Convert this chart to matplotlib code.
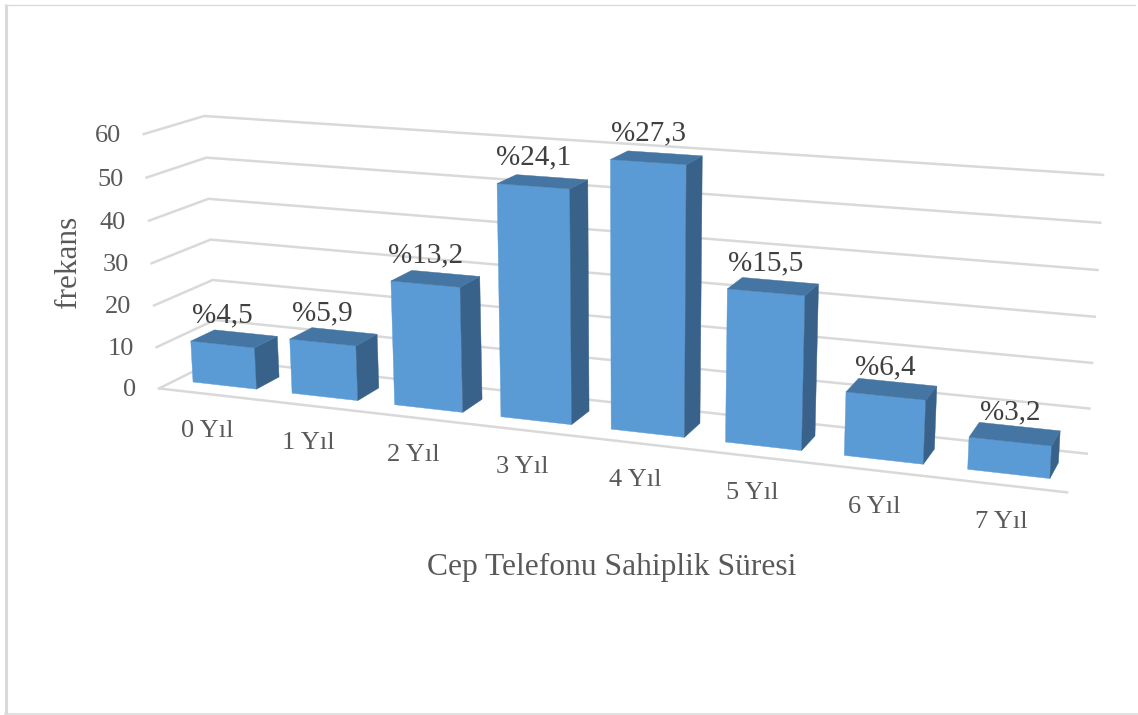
"""Cep telefonu sahiplik suresi: frequency bars drawn in a projected 3D box."""
import numpy as np
import matplotlib
matplotlib.use("Agg")
import matplotlib.pyplot as plt

categories = ["0 Yıl", "1 Yıl", "2 Yıl", "3 Yıl", "4 Yıl", "5 Yıl", "6 Yıl", "7 Yıl"]
frequency = [10, 13, 29, 53, 60, 34, 14, 7]
percent_labels = ["%4,5", "%5,9", "%13,2", "%24,1", "%27,3", "%15,5", "%6,4", "%3,2"]
y_ticks = [0, 10, 20, 30, 40, 50, 60]

W, H = 1138, 715
C_FRONT, C_SIDE, C_TOP = "#5B9BD5", "#38628A", "#4575A2"
C_GRID, C_BORDER = "#D9D9D9", "#D9D9D9"
C_TEXT, C_LABEL = "#595959", "#404040"
BAR_W = 0.645
D0, D1 = 0.28, 0.69

# camera calibration: box corners (slot, depth, value) -> pixel position
box = np.array([[0, 0, 0], [0, 0, 60], [0, 1, 0], [0, 1, 60],
                [8, 1, 0], [8, 1, 60], [8, 0, 0]], float)
pix = np.array([[160, 388], [143, 134], [216, 360], [205, 116],
                [1087, 453], [1103, 175], [1067, 493]], float)
A, b = [], []
for (u, d, v), (x, y) in zip(box, pix):
    A.append([u, d, v, 1, 0, 0, 0, 0, -x * u, -x * d, -x * v])
    A.append([0, 0, 0, 0, u, d, v, 1, -y * u, -y * d, -y * v])
    b += [x, y]
P = np.append(np.linalg.lstsq(np.array(A), np.array(b), rcond=None)[0], 1).reshape(3, 4)


def proj(u, d, v):
    q = P @ np.array([u, d, v, 1.0])
    return q[0] / q[2], q[1] / q[2]


def face(ax, pts, color):
    xy = [proj(*p) for p in pts]
    ax.fill(*zip(*xy), color=color, lw=0.3, zorder=3)


fig = plt.figure(figsize=(W / 100, H / 100), dpi=100)
ax = fig.add_axes([0, 0, 1, 1])
ax.set_xlim(0, W)
ax.set_ylim(H, 0)
ax.axis("off")
plt.rcParams["font.family"] = ["Liberation Serif", "DejaVu Serif"]

# frame: heavy on the left, hairlines top and bottom, open on the right
ax.plot([6.5, 6.5], [4, 714], color=C_BORDER, lw=2.2, zorder=1, solid_capstyle="butt")
ax.plot([5, 1135], [4.5, 4.5], color=C_BORDER, lw=0.9, zorder=1)
ax.plot([5, W], [714, 714], color=C_BORDER, lw=1.1, zorder=1)

# walls: each grid line runs along the left side and then the back
for t in y_ticks:
    pts = [proj(0, 0, t), proj(0, 1, t), proj(8, 1, t)]
    ax.plot(*zip(*pts), color=C_GRID, lw=1.8, zorder=2, solid_joinstyle="miter")
    x, y = pts[0]
    ax.text(x - 23, y + 2, str(t), ha="right", va="center", fontsize=19, color=C_TEXT)
ax.plot(*zip(proj(0, 0, 0), proj(8, 0, 0)), color=C_GRID, lw=1.8, zorder=2)

for i, (val, cat, lab) in enumerate(zip(frequency, categories, percent_labels)):
    u0, u1 = i + (1 - BAR_W) / 2, i + (1 + BAR_W) / 2
    face(ax, [(u0, D0, 0), (u1, D0, 0), (u1, D0, val), (u0, D0, val)], C_FRONT)
    face(ax, [(u1, D0, 0), (u1, D1, 0), (u1, D1, val), (u1, D0, val)], C_SIDE)
    face(ax, [(u0, D0, val), (u1, D0, val), (u1, D1, val), (u0, D1, val)], C_TOP)
    x, y = proj(i + 0.5, D0, val)
    ax.text(x, y - 29, lab, ha="center", va="center", fontsize=21, color=C_LABEL, zorder=4)
    x, y = proj(i + 0.5, 0, 0)
    ax.text(x - 1, y + 37, cat, ha="center", va="center", fontsize=19, color=C_TEXT)

ax.text(612, 567, "Cep Telefonu Sahiplik Süresi", ha="center", va="center",
        fontsize=22.7, color=C_TEXT)
ax.text(69, 262, "frekans", ha="center", va="center", rotation=90,
        fontsize=22.5, color=C_TEXT)

fig.savefig("out.png", dpi=100)
